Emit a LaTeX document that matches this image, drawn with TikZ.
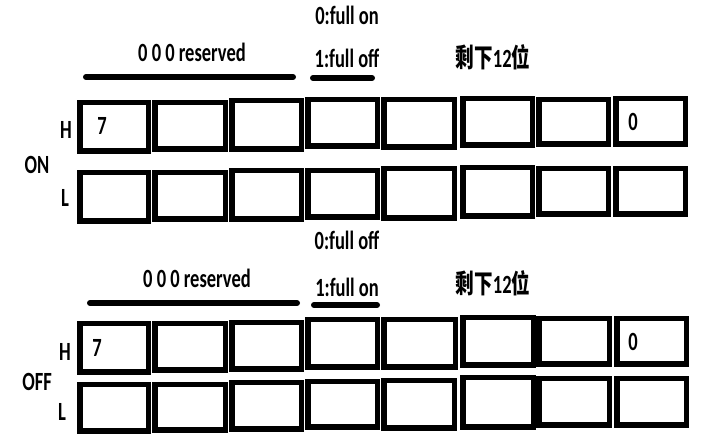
\documentclass[tikz,border=0pt]{standalone}
\usepackage{fontspec}
\setmainfont{Carlito}
\newfontfamily\cjk{Noto Sans CJK SC}
\newcommand\vstretch[1]{\scalebox{1}[1.42]{#1}}
\begin{document}
\begin{tikzpicture}[x=1pt,y=-1pt,
  cell/.style={draw=black,line width=5.5pt,inner sep=0pt,fill=white},
  lbl/.style={inner sep=0pt,font=\fontsize{18.5}{20}\selectfont\bfseries},
  bar/.style={line width=6pt,line cap=round}]
\useasboundingbox (0,0) rectangle (713,446);
% ON section boxes
\foreach \n/\a/\b/\t/\u in {
  oh1/77/151/100/154, oh2/152/228/100/152, oh3/229/304/98/152, oh4/305/380/97/149,
  oh5/381/457/97/150, oh6/460/535/96/148, oh7/536/611/97/147, oh8/613/688/96/147,
  ol1/77/151/170/224, ol2/152/228/170/222, ol3/229/304/168/222, ol4/305/380/168/220,
  ol5/381/457/166/221, ol6/460/535/165/219, ol7/536/611/166/217, ol8/613/688/166/217,
  fh1/77/151/321/375, fh2/152/228/321/373, fh3/229/304/320/372, fh4/305/380/317/370,
  fh5/381/458/317/370, fh6/460/536/315/368, fh7/536/612/316/367, fh8/614/689/316/367,
  fl1/77/151/382/434, fl2/152/228/382/433, fl3/229/304/380/432, fl4/305/380/379/430,
  fl5/381/457/378/431, fl6/460/536/375/430, fl7/536/612/376/428, fl8/614/689/376/428}
  \node[cell,minimum width={(\b-\a-5.5)*1pt},minimum height={(\u-\t-5.5)*1pt}]
    (\n) at ({(\a+\b)/2},{(\t+\u)/2}) {};
% ON section labels
\node[lbl] (on0) at (347,15) {\vstretch{0:full on}};
\node[lbl] (on1) at (347,58) {\vstretch{1:full off}};
\node[lbl] (onres) at (192,52) {\vstretch{0 0 0 reserved}};
\node[lbl] (onrest) at (493,57) {\vstretch{{\cjk\bfseries 剩下}12{\cjk\bfseries 位}}};
\coordinate (ob1s) at (86,77); \coordinate (ob1e) at (293,77);
\coordinate (ob2s) at (313,78); \coordinate (ob2e) at (372,78);
\draw[bar] (ob1s) -- (ob1e);
\draw[bar] (ob2s) -- (ob2e);
\node[lbl] (onH) at (66,130) {\vstretch{H}};
\node[lbl] (on7) at (102,126) {\vstretch{7}};
\node[lbl] (onz) at (633,122) {\vstretch{0}};
\node[lbl] (onON) at (37,165) {\vstretch{ON}};
\node[lbl] (onL) at (65,198) {\vstretch{L}};
% OFF section labels
\node[lbl] (of0) at (347,240) {\vstretch{0:full off}};
\node[lbl] (of1) at (347,287) {\vstretch{1:full on}};
\node[lbl] (ofres) at (197,278) {\vstretch{0 0 0 reserved}};
\node[lbl] (ofrest) at (493,283) {\vstretch{{\cjk\bfseries 剩下}12{\cjk\bfseries 位}}};
\coordinate (fb1s) at (90,303); \coordinate (fb1e) at (297,303);
\coordinate (fb2s) at (314,305); \coordinate (fb2e) at (377,305);
\draw[bar] (fb1s) -- (fb1e);
\draw[bar] (fb2s) -- (fb2e);
\node[lbl] (ofH) at (65,352) {\vstretch{H}};
\node[lbl] (of7) at (97,348) {\vstretch{7}};
\node[lbl] (ofz) at (633,342) {\vstretch{0}};
\node[lbl] (ofOFF) at (37,382) {\vstretch{OFF}};
\node[lbl] (ofL) at (62,412) {\vstretch{L}};
\end{tikzpicture}
\end{document}
